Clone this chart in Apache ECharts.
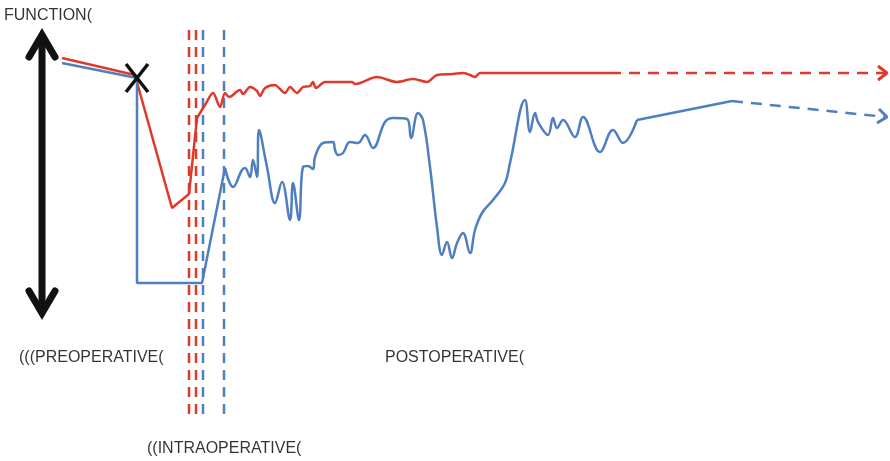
<!DOCTYPE html>
<html>
<head>
<meta charset="utf-8">
<script src="https://cdn.jsdelivr.net/npm/echarts@6/dist/echarts.min.js"></script>
<style>html,body{margin:0;padding:0;background:#fff}#c{width:890px;height:461px}</style>
</head>
<body>
<div id="c"></div>
<script>
// x: time (diagram units), y: function level (diagram units, axis inverted)
var redPre = [[62,58],[135,75],[172,208],[189,194],[197,118]];
var redPost = [[197,118],[205,105],[213,93],[220,107],[225,93],[229,97],[240,90],[243,94],[250,87],[257,91],[260,96],[265,88],[275,85],[280,89],[285,93],[290,87],[297,93],[303,87],[310,86],[313,82],[316,88],[325,82],[352,82],[355,84],[360,83],[377,77],[397,82],[413,79],[427,82],[437,75],[453,74],[463,73],[470,75],[475,77],[480,73],[610,73]];
var redFuture = [[610,73],[886,73]];
var bluePre = [[62,63],[137,78],[137,283],[202,283],[225,168]];
var bluePost = [[225,168],[233,187],[242,170],[245,168],[250,177],[253,160],[257,177],[259,130],[267,167],[275,203],[282,182],[290,220],[293,183],[299,220],[303,167],[308,166],[313,169],[315,157],[323,143],[333,142],[335,150],[338,155],[343,153],[350,142],[358,143],[365,135],[373,148],[385,122],[393,118],[407,119],[411,138],[418,113],[423,120],[430,167],[437,227],[442,255],[447,242],[452,258],[457,243],[463,233],[470,253],[475,230],[482,213],[493,200],[505,183],[510,163],[525,100],[530,132],[535,113],[538,122],[548,135],[553,118],[557,128],[563,120],[575,137],[583,117],[600,152],[613,130],[623,143],[637,120]];
var blueLate = [[637,120],[732,101]];
var blueFuture = [[732,101],[886,117]];
var redVLines = [189,196];
var blueVLines = [203,224];
var vTop = 30, vBottom = 416;
var labels = [
  {text:'FUNCTION(', x:4, y:16},
  {text:'(((PREOPERATIVE(', x:19, y:358},
  {text:'POSTOPERATIVE(', x:385, y:358},
  {text:'((INTRAOPERATIVE(', x:147, y:449}
];
var arrowShaft = [[42,40],[42,308]];
var arrowTop = [[29,57],[42,35],[55,57]];
var arrowBottom = [[29,291],[42,313],[55,291]];
var redHead = [[878,66],[887,73],[878,80]];
var blueHead = [[879,109],[887,117],[877,123]];
var markerXa = [[126,64],[148,92]];
var markerXb = [[148,64],[126,92]];

var RED = '#e0392b', BLUE = '#4f7fc0';
function ln(data, color, w, opt){
  return Object.assign({type:'line', data:data, showSymbol:false, symbol:'none', silent:true, animation:false,
    lineStyle:{color:color, width:w}, z:3}, opt||{});
}
var series = [];
redVLines.forEach(function(x){ series.push(ln([[x,vTop],[x,vBottom]], RED, 2.5, {lineStyle:{color:RED,width:2.5,type:[10,7]}})); });
blueVLines.forEach(function(x){ series.push(ln([[x,vTop],[x,vBottom]], BLUE, 2.5, {lineStyle:{color:BLUE,width:2.5,type:[10,7]}})); });
series.push(ln(redPre, RED, 2.5));
series.push(ln(redPost, RED, 2.5, {smooth:0.3}));
series.push(ln(redFuture, RED, 2.5, {lineStyle:{color:RED,width:2.5,type:[11,8]}}));
series.push(ln(redHead, RED, 3));
series.push(ln(bluePre, BLUE, 2.5));
series.push(ln(bluePost, BLUE, 2.5, {smooth:0.4}));
series.push(ln(blueLate, BLUE, 2.5));
series.push(ln(blueFuture, BLUE, 2.5, {lineStyle:{color:BLUE,width:2.5,type:[11,8]}}));
series.push(ln(blueHead, BLUE, 3));
series.push(ln(arrowShaft, '#111', 7, {lineStyle:{color:'#111',width:7,cap:'butt'}}));
series.push(ln(arrowTop, '#111', 7, {lineStyle:{color:'#111',width:7,cap:'round',join:'miter'}}));
series.push(ln(arrowBottom, '#111', 7, {lineStyle:{color:'#111',width:7,cap:'round',join:'miter'}}));
series.push(ln(markerXa, '#111', 3.5, {z:5}));
series.push(ln(markerXb, '#111', 3.5, {z:5}));
labels.forEach(function(l){
  series.push({type:'scatter', data:[[l.x,l.y]], symbolSize:0, silent:true, animation:false,
    label:{show:true, position:'right', distance:0, formatter:l.text, color:'#000', fontSize:16, fontFamily:'Liberation Sans, Arial, sans-serif'}});
});

var chart = echarts.init(document.getElementById('c'));
chart.setOption({
  backgroundColor:'#fff',
  animation:false,
  grid:{left:0,right:0,top:0,bottom:0},
  xAxis:{type:'value', min:0, max:890, show:false},
  yAxis:{type:'value', min:0, max:461, inverse:true, show:false},
  series:series
});
</script>
</body>
</html>
